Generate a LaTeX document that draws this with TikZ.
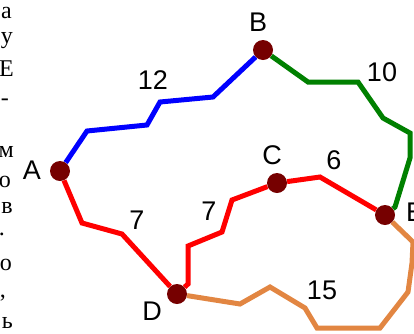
\documentclass[tikz,border=0pt]{standalone}
\usepackage{fontspec}
\setmainfont{Liberation Serif}
\newfontfamily\labfont{Liberation Sans}
\definecolor{nodered}{RGB}{118,0,0}
\definecolor{eblue}{RGB}{0,0,255}
\definecolor{egreen}{RGB}{0,128,0}
\definecolor{ered}{RGB}{255,0,0}
\definecolor{eorange}{RGB}{226,134,66}
\begin{document}
\begin{tikzpicture}[x=1pt,y=-1pt,
  vert/.style={circle,fill=nodered,minimum size=20pt,inner sep=0pt},
  lbl/.style={font=\labfont\fontsize{27}{30}\selectfont,inner sep=0pt},
  edge/.style={line width=5pt},
  side/.style={font=\fontsize{24}{28}\selectfont,inner sep=0pt,anchor=base east}]
\useasboundingbox (0,0) rectangle (414,333);
% clipped text at the left edge
\node[side] (s1) at (12,18) {а};
\node[side] (s2) at (13,43) {у};
\node[side] (s3) at (14,76) {Е};
\node[side] (s4) at (9,105) {-};
\node[side] (s5) at (14,157) {м};
\node[side] (s6) at (11,187) {о};
\node[side] (s7) at (13,213) {в};
\node[side] (s8) at (5,235) {.};
\node[side] (s9) at (12,270) {о};
\node[side] (s10) at (6,297) {,};
\node[side] (s11) at (13,328) {ь};
% vertices
\node[vert] (A) at (60,171) {};
\node[vert] (B) at (263,50) {};
\node[vert] (C) at (277,183) {};
\node[vert] (D) at (177,294) {};
\node[vert] (E) at (385,215) {};
% edges
\draw[edge,eblue] (A) -- (87,131) -- (147,125) -- (160,102) -- (213,97) -- (B);
\draw[edge,egreen] (B) -- (308,82) -- (358,82) -- (383,118) -- (410,133) -- (410,158) -- (395,207) -- (E);
\draw[edge,ered] (C) -- (320,177) -- (E);
\draw[edge,ered] (C) -- (232,200) -- (222,232) -- (188,246) -- (188,284) -- (D);
\draw[edge,ered] (A) -- (82,223) -- (122,234) -- (D);
\draw[edge,eorange] (D) -- (240,304) -- (270,287) -- (305,308) -- (317,328) -- (380,328) -- (408,292) -- (412,263) -- (413,242) -- (E);
% labels
\node[lbl] (lA) at (32,170) {A};
\node[lbl] (lB) at (258,22) {B};
\node[lbl] (lC) at (272,155) {C};
\node[lbl] (lD) at (152,311) {D};
\node[lbl,anchor=west] (lE) at (406,212) {E};
\node[lbl] (w12) at (153,80) {12};
\node[lbl] (w10) at (382,72) {10};
\node[lbl] (w6) at (334,160) {6};
\node[lbl] (w7a) at (137,220) {7};
\node[lbl] (w7b) at (209,211) {7};
\node[lbl] (w15) at (322,290) {15};
\end{tikzpicture}
\end{document}
